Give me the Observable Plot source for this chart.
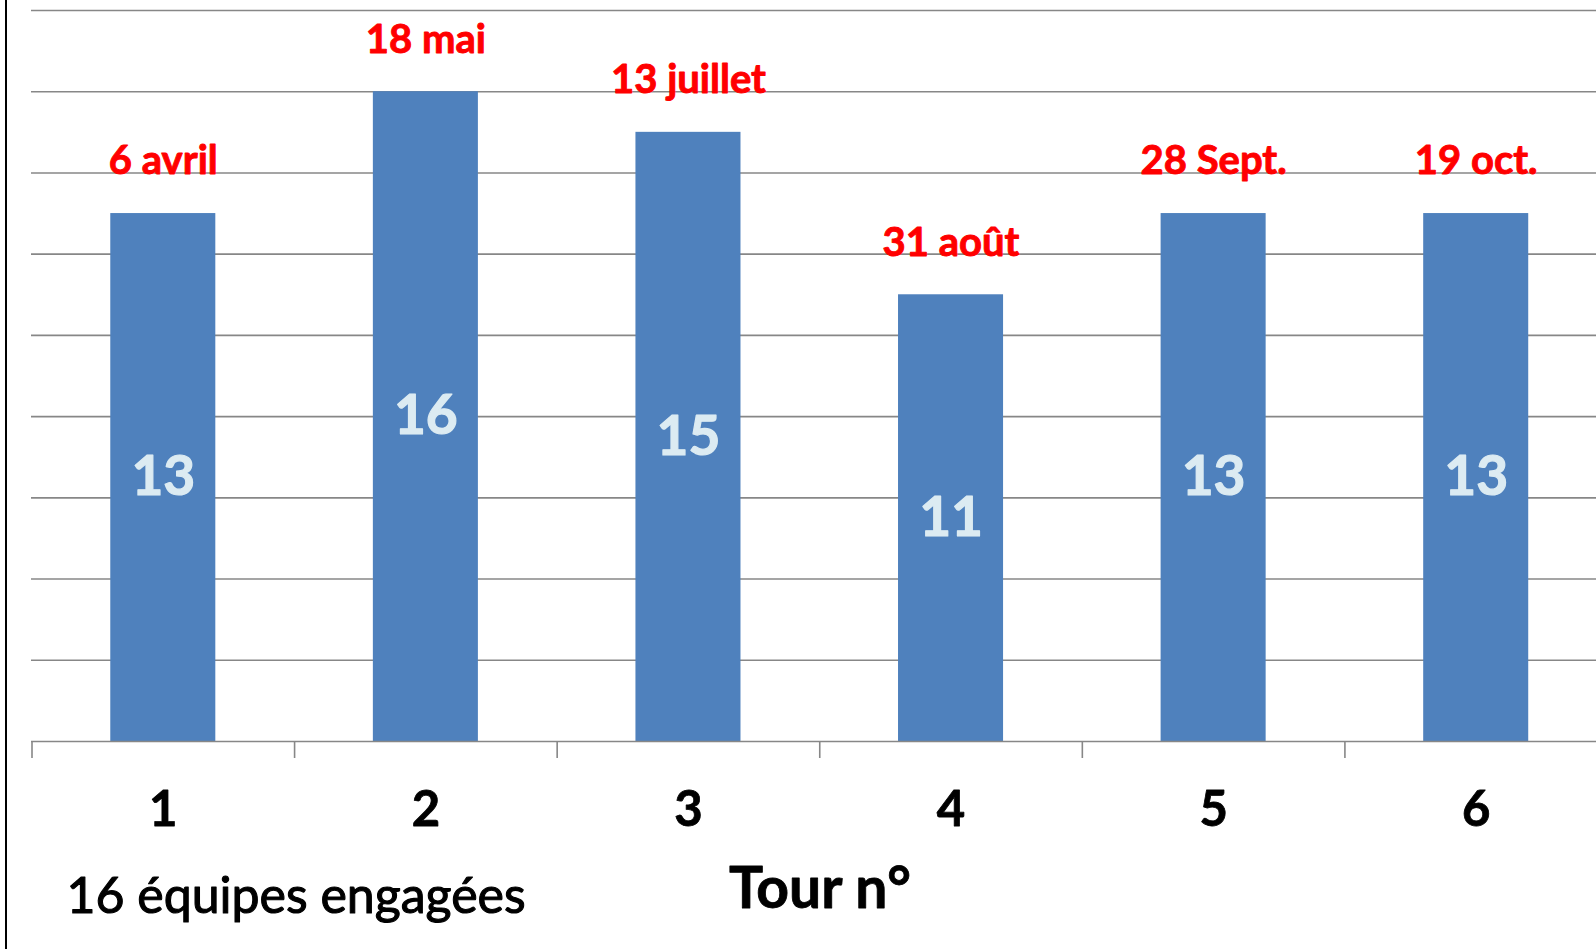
<!DOCTYPE html>
<html>
<head>
<meta charset="utf-8">
<script src="https://cdn.jsdelivr.net/npm/d3@7"></script>
<script src="https://cdn.jsdelivr.net/npm/@observablehq/plot@0.6"></script>
<style>
  html, body { margin: 0; padding: 0; background: #fff; overflow: hidden; }
  #wrap { position: relative; width: 1596px; height: 949px; }
  #wrap::before { content: ""; position: absolute; left: 5px; top: 0; width: 2px; height: 949px; background: #000; z-index: 2; }
  #wrap svg { overflow: hidden; }
</style>
</head>
<body>
<div id="wrap"></div>
<script>
const tours = [1, 2, 3, 4, 5, 6];
const equipes = [13, 16, 15, 11, 13, 13];
const dates = ["6 avril", "18 mai", "13 juillet", "31 août", "28 Sept.", "19 oct."];
const gridValues = [2, 4, 6, 8, 10, 12, 14, 16, 18];
const tickBounds = [0.5, 1.5, 2.5, 3.5, 4.5, 5.5];
const footNote = "16 équipes engagées";
const axisTitle = "Tour n°";

const data = tours.map((t, i) => ({tour: t, n: equipes[i], date: dates[i]}));
const gray = "#878787";
const font = "Lato, 'Open Sans', sans-serif";

const chart = Plot.plot({
  width: 1596,
  height: 949,
  marginTop: 10,
  marginBottom: 208,
  marginLeft: 31,
  marginRight: 0,
  style: {fontFamily: font, background: "white"},
  x: {domain: [0.5, 6.5], range: [31.5, 1607], axis: null},
  y: {domain: [0, 18], axis: null},
  marks: [
    Plot.gridY(gridValues, {stroke: gray, strokeOpacity: 1, strokeWidth: 1.6}),
    Plot.rectY(data, {x1: d => d.tour - 0.2, x2: d => d.tour + 0.2, y: "n", fill: "#4f81bd"}),
    Plot.ruleY([0], {stroke: gray, strokeWidth: 1.6}),
    Plot.axisX(tickBounds, {tickSize: 17, tickFormat: () => "", stroke: gray, strokeWidth: 1.6, label: null}),
    Plot.text(data, {x: "tour", y: d => d.n / 2, text: d => String(d.n), fill: "#dcebf2", stroke: "#dcebf2", strokeWidth: 1.2, fontSize: 55, fontWeight: "bold"}),
    Plot.text(data, {x: "tour", y: "n", text: "date", fill: "#ff0000", stroke: "#ff0000", strokeWidth: 0.9, fontSize: 40, fontWeight: "bold", dy: -52}),
    Plot.text(tours, {x: d => d, text: d => String(d), frameAnchor: "bottom", lineAnchor: "top", dy: 50, fontSize: 49, fontWeight: "bold", fill: "#000", stroke: "#000", strokeWidth: 0.8}),
    Plot.text([axisTitle], {frameAnchor: "bottom", lineAnchor: "top", dx: 6, dy: 126, fontSize: 57, fontWeight: "bold", fill: "#000", stroke: "#000", strokeWidth: 0.8}),
    Plot.text([footNote], {frameAnchor: "bottom-left", textAnchor: "start", lineAnchor: "top", dx: 35, dy: 136, fontSize: 50, fill: "#000", stroke: "#000", strokeWidth: 1.1})
  ]
});
document.getElementById("wrap").appendChild(chart);
</script>
</body>
</html>
